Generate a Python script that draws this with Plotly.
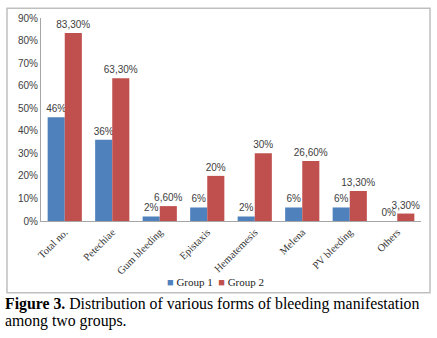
import plotly.graph_objects as go

categories = ["Total no.", "Petechiae", "Gum bleeding", "Epistaxis",
              "Hematemesis", "Melena", "PV bleeding", "Others"]
group1 = [46, 36, 2, 6, 2, 6, 6, 0]
group2 = [83.3, 63.3, 6.6, 20, 30, 26.6, 13.3, 3.3]
y_ticks = [0, 10, 20, 30, 40, 50, 60, 70, 80, 90]


def pct_label(v):
    if float(v).is_integer():
        return f"{int(v)}%"
    return f"{v:.2f}".replace(".", ",") + "%"


BLUE = "#4F81BD"
RED = "#C0504D"
SANS = "Liberation Sans, Arial, sans-serif"
SERIF = "Liberation Serif, Times New Roman, serif"

fig = go.Figure()
for name, vals, color in [("Group 1", group1, BLUE), ("Group 2", group2, RED)]:
    fig.add_trace(go.Bar(
        name=name, x=categories, y=vals, marker_color=color,
        marker_line_width=0,
        text=[pct_label(v) for v in vals], textposition="outside",
        constraintext="none",
        textfont=dict(family=SANS, size=10, color="#404040"),
        cliponaxis=False,
    ))

fig.update_layout(
    width=437, height=338,
    margin=dict(l=41, r=16, t=15, b=117),
    paper_bgcolor="white", plot_bgcolor="white",
    barmode="group", bargap=0.28, bargroupgap=0,
    showlegend=False,
    xaxis=dict(tickangle=-45, showline=True, linecolor="#A6A6A6", linewidth=1,
               tickfont=dict(family=SERIF, size=10.5, color="#333"),
               ticks="", showgrid=False),
    yaxis=dict(range=[0, 90], tickvals=y_ticks,
               ticktext=[f"{t}%" for t in y_ticks],
               showline=True, linecolor="#A6A6A6", linewidth=1,
               showgrid=False, zeroline=False, ticks="",
               tickfont=dict(family=SANS, size=10, color="#404040")),
)

# Chart frame around plot and legend
fig.add_shape(type="rect", xref="paper", yref="paper",
              x0=-0.0895, x1=1.0237, y0=-0.354, y1=1.0485,
              line=dict(color="#BFBFBF", width=1.5), fillcolor="rgba(0,0,0,0)")

# Compact legend below the axis
fig.add_annotation(
    xref="paper", yref="paper", x=0.46, y=-0.301, xanchor="center",
    yanchor="middle", showarrow=False,
    text=(f"<span style='color:{BLUE}'>■</span> Group 1 &nbsp;"
          f"<span style='color:{RED}'>■</span> Group 2"),
    font=dict(family=SERIF, size=11, color="#222"))

# Caption
fig.add_annotation(xref="paper", yref="paper", x=-0.1, y=-0.409,
                   xanchor="left", yanchor="middle", showarrow=False,
                   text="<b>Figure 3.</b> Distribution of various forms of bleeding manifestation",
                   font=dict(family=SERIF, size=15.8, color="black"))
fig.add_annotation(xref="paper", yref="paper", x=-0.1, y=-0.493,
                   xanchor="left", yanchor="middle", showarrow=False,
                   text="among two groups.",
                   font=dict(family=SERIF, size=15.8, color="black"))

fig.write_html("out.html")
